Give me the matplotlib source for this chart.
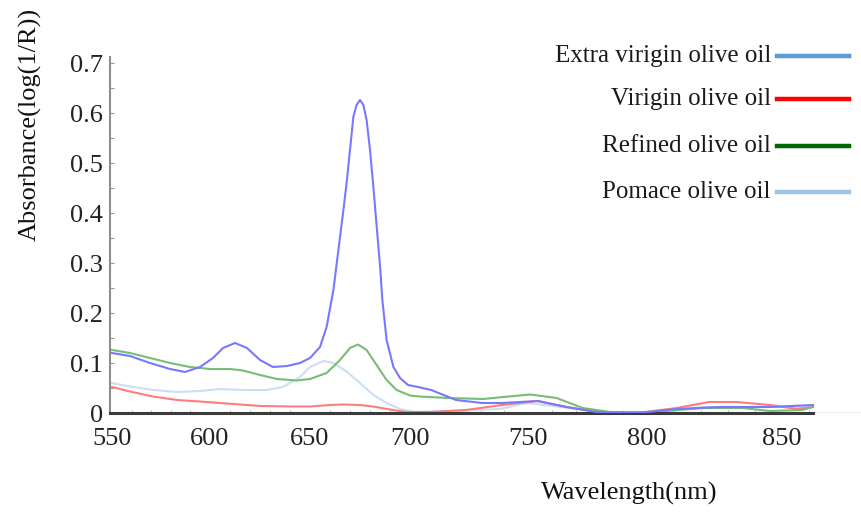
import matplotlib
matplotlib.use("Agg")
import matplotlib.pyplot as plt
import numpy as np

# values (wavelength in nm, absorbance)
extra_nm = [550, 559.2, 569.4, 579.6, 587.2, 594.9, 601.5, 606.5, 612.5, 618.5, 625, 631.5, 638.5,
            645, 650, 655, 658.3, 661.7, 664.2, 666.7, 668.3, 670, 671.7, 673.3, 675, 676.7, 678.3,
            680, 681.7, 683.3, 685, 686.2, 688.3, 691.7, 695, 699, 703.4, 709, 719.5, 730.5, 739,
            754, 766, 779, 796, 811, 827, 845.5, 861.5]
extra_abs = [0.12, 0.114, 0.1, 0.088, 0.082, 0.092, 0.11, 0.13, 0.14, 0.13, 0.106, 0.092, 0.094,
             0.1, 0.11, 0.132, 0.172, 0.246, 0.326, 0.406, 0.46, 0.526, 0.593, 0.616, 0.626, 0.616, 0.586,
             0.526, 0.452, 0.375, 0.295, 0.225, 0.146, 0.092, 0.07, 0.056, 0.052, 0.046, 0.026, 0.02, 0.02,
             0.024, 0.012, 0.002, 0.0, 0.008, 0.012, 0.012, 0.016]

virgin_nm = [550, 559.2, 570.9, 583.2, 594.9, 608.5, 625, 641.5, 650, 660, 666.7, 675, 681.5, 690,
             698, 709, 723.7, 739, 754, 766.5, 779, 796, 811, 823, 833, 845.5, 855.5, 861.5]
virgin_abs = [0.052, 0.043, 0.033, 0.026, 0.023, 0.019, 0.014, 0.013, 0.013, 0.016, 0.017, 0.016, 0.013, 0.007,
              0.002, 0.002, 0.006, 0.016, 0.024, 0.012, 0.002, 0.0, 0.01, 0.022, 0.022, 0.016, 0.008, 0.012]

refined_nm = [550, 559.2, 569.4, 579.6, 589.8, 600, 610, 616.5, 625, 633.5, 643.5, 650, 658.3, 665,
              670, 674, 678.3, 683.3, 688.3, 693.3, 700, 704, 716.5, 731, 739.5, 751, 762, 773, 784.5,
              802, 821, 835.5, 845.5, 857.5, 861.5]
refined_abs = [0.126, 0.12, 0.11, 0.1, 0.092, 0.088, 0.088, 0.085, 0.076, 0.068, 0.065, 0.068, 0.08, 0.106,
               0.13, 0.137, 0.126, 0.096, 0.066, 0.046, 0.035, 0.033, 0.03, 0.028, 0.032, 0.037, 0.03, 0.01, 0.002,
               0.002, 0.01, 0.01, 0.004, 0.006, 0.012]

pomace_nm = [550, 559.2, 570.9, 583.2, 594.9, 605, 616.5, 628.5, 636.5, 645, 650, 656.7, 661.7, 668.3,
             675, 681.7, 688.3, 695, 702, 716.5, 738, 749.5, 767.5, 781, 802, 821, 839, 861.5]
pomace_abs = [0.06, 0.053, 0.046, 0.042, 0.044, 0.048, 0.046, 0.046, 0.052, 0.072, 0.092, 0.104, 0.1, 0.083,
              0.06, 0.036, 0.02, 0.008, 0.002, 0.004, 0.008, 0.02, 0.01, 0.002, 0.002, 0.012, 0.012, 0.012]

labels = ["Extra virigin olive oil", "Virigin olive oil", "Refined olive oil", "Pomace olive oil"]
curve_colors = ["#7878ff", "#ff7c7c", "#78bc78", "#cadff3"]
legend_colors = ["#5b9bd5", "#ff0000", "#006a00", "#9dc3e6"]

xticks = [550, 600, 650, 700, 750, 800, 850]
yticks = [0, 0.1, 0.2, 0.3, 0.4, 0.5, 0.6, 0.7]

# the original axis has unevenly spaced wavelength labels; reproduce via a piecewise scale
scale_nm = [500, 550, 600, 650, 700, 750, 800, 850, 900]
scale_px = [12, 112, 210, 310, 410, 528, 647, 782, 917]

def fwd(x):
    return np.interp(x, scale_nm, scale_px)

def inv(p):
    return np.interp(p, scale_px, scale_nm)

W, H = 862, 512
fig = plt.figure(figsize=(W / 100, H / 100), dpi=100)
ax = fig.add_axes([110 / W, (H - 413) / H, (W - 110) / W, (413 - 57) / H])
ax.set_xscale("function", functions=(fwd, inv))

series = [(extra_nm, extra_abs), (virgin_nm, virgin_abs), (refined_nm, refined_abs), (pomace_nm, pomace_abs)]
order = [3, 1, 2, 0]
for i in order:
    x, y = series[i]
    ax.plot(x, y, color=curve_colors[i], lw=1.5, zorder=2 + (i == 0), solid_joinstyle="round")

ax.set_xlim(inv(110), inv(862))
ax.set_ylim(0, 0.712)

serif = "Liberation Serif"
ax.set_xticks(xticks)
ax.set_xticklabels([str(t) for t in xticks], fontfamily=serif, fontsize=19, color="#222222")
ax.set_yticks(yticks)
ax.set_yticklabels(["0"] + [f"{t:.1f}" for t in yticks[1:]], fontfamily=serif, fontsize=19, color="#222222")
ax.set_xticks(np.arange(560, 861, 10), minor=True)
ax.set_yticks(np.arange(0.05, 0.71, 0.1), minor=True)
ax.tick_params(axis="x", which="major", length=0, pad=11)
ax.tick_params(axis="y", which="major", direction="in", length=3, width=0.8, color="#999999", pad=5)
ax.tick_params(axis="x", which="minor", direction="in", length=2, color="#aaaaaa")
ax.tick_params(axis="y", which="minor", direction="in", length=3, width=0.8, color="#999999")

for s in ["top", "right"]:
    ax.spines[s].set_visible(False)
ax.spines["left"].set_color("#8c8c8c")
ax.spines["left"].set_linewidth(1.5)
ax.spines["bottom"].set_color("#3a3a3a")
ax.spines["bottom"].set_linewidth(2.2)
ax.spines["bottom"].set_bounds(inv(110), 861.5)
ax.axhline(0, color="#9a9a9a", lw=1.0, zorder=1)

# legend drawn as in the reference: right-aligned text followed by a thick line
leg_y = [56, 99, 146, 192]
for lab, col, yy in zip(labels, legend_colors, leg_y):
    fig.text(771 / W, 1 - yy / H, lab, ha="right", va="center", fontfamily=serif, fontsize=18, color="#1a1a1a")
    fig.add_artist(plt.Line2D([777 / W, 849 / W], [1 - yy / H, 1 - yy / H], color=col, lw=3.2,
                              transform=fig.transFigure))

fig.text(30 / W, 1 - 124 / H, "Absorbance(log(1/R))", rotation=90, ha="center", va="center",
         fontfamily=serif, fontsize=19, color="#111111")
fig.text(629 / W, 1 - 493 / H, "Wavelength(nm)", ha="center", va="center",
         fontfamily=serif, fontsize=19, color="#111111")

fig.savefig("out.png", dpi=100)
